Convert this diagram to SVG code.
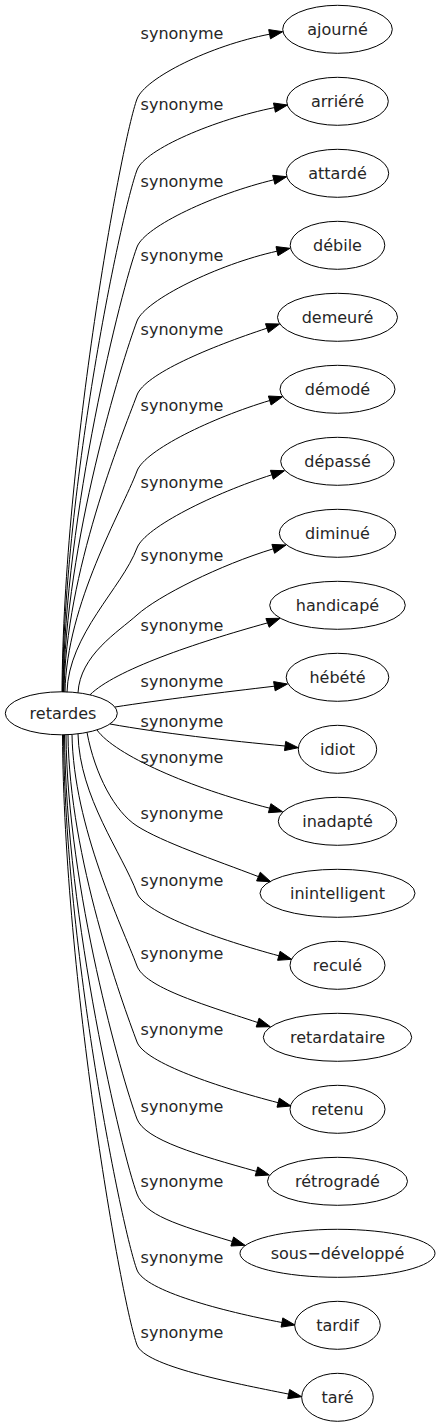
<svg xmlns="http://www.w3.org/2000/svg" width="439" height="1427" viewBox="0 0 439 1427">
<style>
.n ellipse{fill:none;stroke:#000;stroke-width:1}
.n text,.lbl{font-family:"DejaVu Sans",sans-serif;font-size:16px;fill:#262626;text-anchor:middle}
.e path{fill:none;stroke:#000;stroke-width:1}
.e polygon{fill:#000;stroke:#000;stroke-width:1}
</style>
<rect width="439" height="1427" fill="#fff"/>
<g id="edges" class="e">
<path d="M62,692 C63.5,454.8 122,139 137,99 C145,78 210.7,45.4 269.6,34.2"/><polygon points="282.7,31.7 270.5,38.8 268.7,29.6"/>
<path d="M62.5,692 C64,483.2 122,210 137,170 C145,149 215.6,119.4 274.5,107.6"/><polygon points="287.5,105 275.4,112.2 273.5,103"/>
<path d="M63,692 C64.5,514 122,287 137,247 C145,226 215.4,193.8 273.8,179.8"/><polygon points="286.7,176.7 274.9,184.3 272.7,175.3"/>
<path d="M63.5,692 C65,543.6 122,361 137,321 C145,300 218.4,264.1 277,251.2"/><polygon points="290,248.3 278,255.7 276,246.6"/>
<path d="M64,692 C65.5,573.2 122,435 137,395 C145,374 210,347 267,328.2"/><polygon points="279.6,324 268.4,332.6 265.5,323.7"/>
<path d="M65,692 C66.5,603.6 122,511 137,471 C145,450 212.3,417.7 269.8,400.5"/><polygon points="282.5,396.7 271.1,405 268.4,396"/>
<path d="M67,692.2 C68.5,634.4 122,588 137,548 C145,527 214.7,493.1 271.8,474.8"/><polygon points="284.5,470.7 273.3,479.2 270.4,470.3"/>
<path d="M78,692.8 C80,655 118,632 137,615 C158,596 220,565 273.3,548.8"/><polygon points="286,545 274.6,553.3 271.9,544.4"/>
<path d="M90,694.8 C115,670 195,643 267.5,622.9"/><polygon points="280,618.3 269.2,627.3 265.9,618.5"/>
<path d="M115,707 C160,700 225,692 274.4,686.2"/><polygon points="287.5,684 275.2,690.8 273.6,681.6"/>
<path d="M110,724 C160,733 230,741 285.1,746"/><polygon points="298.3,747.7 284.5,750.6 285.7,741.4"/>
<path d="M97,730 C115,755 190,788 269.7,808.2"/><polygon points="282.5,811.7 268.4,812.7 270.9,803.7"/>
<path d="M87,732.4 C95,775 115,812 137,826 C162,842 215,860 258.4,876.6"/><polygon points="270.7,881.7 256.6,880.9 260.3,872.2"/>
<path d="M78,733.8 C79.5,797.4 122,853 137,893 C145,914 221,940.2 278.9,955.8"/><polygon points="291.7,959.3 277.6,960.3 280.1,951.3"/>
<path d="M72,734.4 C73.5,827 122,926 137,966 C145,987 200.7,1003.7 257.7,1022.5"/><polygon points="270.3,1026.7 256.2,1027 259.1,1018.1"/>
<path d="M68,734.9 C69.5,857.7 122,1002 137,1042 C145,1063 220,1087.6 278.1,1102.7"/><polygon points="291,1106 277,1107.2 279.3,1098.1"/>
<path d="M66,735 C67.5,888.6 122,1079 137,1119 C145,1140 198.7,1155.2 256.5,1171.4"/><polygon points="269.3,1175 255.2,1175.9 257.8,1166.9"/>
<path d="M64.5,735 C66,918.6 122,1154 137,1194 C145,1215 174.8,1224.2 232.3,1241.5"/><polygon points="245,1245.3 230.9,1246 233.6,1237"/>
<path d="M63.5,735 C65,949 122,1230 137,1270 C145,1291 223,1311.3 281.9,1322.5"/><polygon points="295,1325 281.1,1327.1 282.8,1317.9"/>
<path d="M62.5,735 C64,979 122,1305 137,1345 C145,1366 229.9,1382.3 288.7,1394.1"/><polygon points="301.7,1396.7 287.7,1398.7 289.6,1389.5"/>
</g>
<g id="labels">
<text class="lbl" x="182" y="38.5">synonyme</text>
<text class="lbl" x="182" y="109.5">synonyme</text>
<text class="lbl" x="182" y="186.5">synonyme</text>
<text class="lbl" x="182" y="260.5">synonyme</text>
<text class="lbl" x="182" y="334.5">synonyme</text>
<text class="lbl" x="182" y="410.5">synonyme</text>
<text class="lbl" x="182" y="487.5">synonyme</text>
<text class="lbl" x="182" y="560.5">synonyme</text>
<text class="lbl" x="182" y="630.5">synonyme</text>
<text class="lbl" x="182" y="686.5">synonyme</text>
<text class="lbl" x="182" y="726.5">synonyme</text>
<text class="lbl" x="182" y="762.5">synonyme</text>
<text class="lbl" x="182" y="818.5">synonyme</text>
<text class="lbl" x="182" y="885.5">synonyme</text>
<text class="lbl" x="182" y="958.5">synonyme</text>
<text class="lbl" x="182" y="1034.5">synonyme</text>
<text class="lbl" x="182" y="1111.5">synonyme</text>
<text class="lbl" x="182" y="1186.5">synonyme</text>
<text class="lbl" x="182" y="1262.5">synonyme</text>
<text class="lbl" x="182" y="1337.5">synonyme</text>
</g>
<g id="retardes" class="n"><ellipse cx="61.3" cy="713.3" rx="56" ry="21.5"/><text x="63" y="719">retardes</text></g>
<g id="ajourne" class="n"><ellipse cx="337.5" cy="29.3" rx="54.8" ry="24"/><text x="337.5" y="35">ajourné</text></g>
<g id="arriere" class="n"><ellipse cx="337.5" cy="101.3" rx="50.8" ry="24"/><text x="337.5" y="107">arriéré</text></g>
<g id="attarde" class="n"><ellipse cx="337.5" cy="173.3" rx="51.2" ry="24"/><text x="337.5" y="179">attardé</text></g>
<g id="debile" class="n"><ellipse cx="337.5" cy="245.3" rx="47.3" ry="24"/><text x="337.5" y="251">débile</text></g>
<g id="demeure" class="n"><ellipse cx="337.5" cy="317.3" rx="60" ry="24"/><text x="337.5" y="323">demeuré</text></g>
<g id="demode" class="n"><ellipse cx="337.5" cy="389.3" rx="57.5" ry="24"/><text x="337.5" y="395">démodé</text></g>
<g id="depasse" class="n"><ellipse cx="337.5" cy="461.3" rx="56.8" ry="24"/><text x="337.5" y="467">dépassé</text></g>
<g id="diminue" class="n"><ellipse cx="337.5" cy="533.3" rx="58.2" ry="24"/><text x="337.5" y="539">diminué</text></g>
<g id="handicape" class="n"><ellipse cx="337.5" cy="605.3" rx="67.8" ry="24"/><text x="337.5" y="611">handicapé</text></g>
<g id="hebete" class="n"><ellipse cx="337.5" cy="677.3" rx="51.3" ry="24"/><text x="337.5" y="683">hébété</text></g>
<g id="idiot" class="n"><ellipse cx="337.5" cy="749.3" rx="39.2" ry="24"/><text x="337.5" y="755">idiot</text></g>
<g id="inadapte" class="n"><ellipse cx="337.5" cy="821.3" rx="59.2" ry="24"/><text x="337.5" y="827">inadapté</text></g>
<g id="inintelligent" class="n"><ellipse cx="337.5" cy="893.3" rx="77.5" ry="24"/><text x="337.5" y="899">inintelligent</text></g>
<g id="recule" class="n"><ellipse cx="337.5" cy="965.3" rx="47.5" ry="24"/><text x="337.5" y="971">reculé</text></g>
<g id="retardataire" class="n"><ellipse cx="337.5" cy="1037.3" rx="74.2" ry="24"/><text x="337.5" y="1043">retardataire</text></g>
<g id="retenu" class="n"><ellipse cx="337.5" cy="1109.3" rx="47.5" ry="24"/><text x="337.5" y="1115">retenu</text></g>
<g id="retrograde" class="n"><ellipse cx="337.5" cy="1181.3" rx="70" ry="24"/><text x="337.5" y="1187">rétrogradé</text></g>
<g id="sous-developpe" class="n"><ellipse cx="337.5" cy="1253.3" rx="97.5" ry="24"/><text x="337.5" y="1259">sous−développé</text></g>
<g id="tardif" class="n"><ellipse cx="337.5" cy="1325.3" rx="42.8" ry="24"/><text x="337.5" y="1331">tardif</text></g>
<g id="tare" class="n"><ellipse cx="337.5" cy="1397.3" rx="35.8" ry="24"/><text x="337.5" y="1403">taré</text></g>
</svg>
